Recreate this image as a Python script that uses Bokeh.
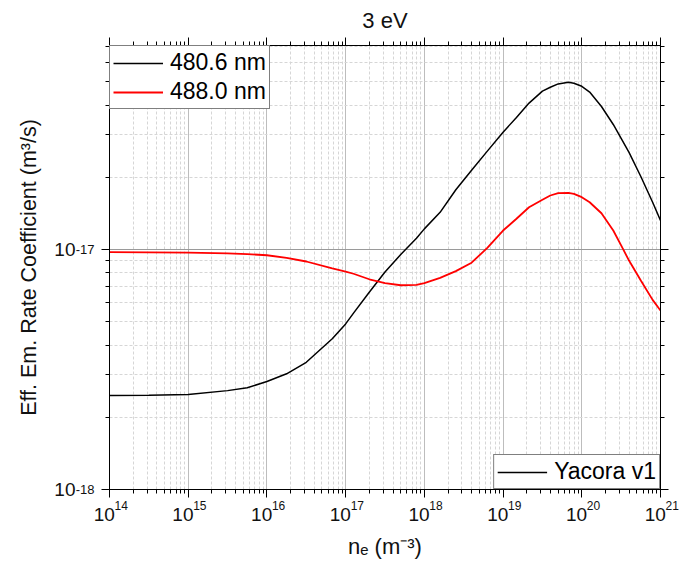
from bokeh.plotting import figure
from bokeh.models import (Range1d, FixedTicker, LogAxis, CustomJSTickFormatter,
                          Legend, LegendItem, ColumnDataSource)
from bokeh.embed import file_html
from bokeh.resources import INLINE

# ---- data (log10 values) ----
log_ne = [14.0, 14.5, 15.0, 15.5, 15.75, 16.0, 16.25, 16.5, 16.83, 17.0, 17.1, 17.3,
          17.5, 17.7, 17.9, 18.0, 18.2, 18.4, 18.6, 18.8, 19.0, 19.17, 19.33, 19.5,
          19.6, 19.7, 19.83, 19.9, 20.0, 20.1, 20.25, 20.4, 20.5, 20.6, 20.75, 20.9, 21.0]
log_rate_4806 = [-17.608, -17.607, -17.604, -17.588, -17.576, -17.55, -17.518, -17.47,
                 -17.372, -17.31, -17.265, -17.178, -17.094, -17.021, -16.953, -16.914,
                 -16.845, -16.751, -16.67, -16.59, -16.511, -16.45, -16.39, -16.34,
                 -16.324, -16.31, -16.303, -16.307, -16.32, -16.344, -16.404, -16.479,
                 -16.537, -16.595, -16.696, -16.803, -16.879]
log_rate_4880 = [-17.011, -17.012, -17.013, -17.016, -17.019, -17.024, -17.035, -17.05,
                 -17.079, -17.092, -17.101, -17.124, -17.14, -17.149, -17.147, -17.14,
                 -17.118, -17.09, -17.055, -16.993, -16.921, -16.872, -16.824, -16.793,
                 -16.775, -16.765, -16.764, -16.768, -16.782, -16.803, -16.849, -16.921,
                 -16.983, -17.046, -17.129, -17.21, -17.254]
series_labels = ["480.6 nm", "488.0 nm"]
model_label = "Yacora v1"
title_text = "3 eV"
x_label = "n\u2091 (m\u207b\u00b3)"
y_label = "Eff. Em. Rate Coefficient (m\u00b3/s)"
x_major = [1e14, 1e15, 1e16, 1e17, 1e18, 1e19, 1e20, 1e21]
y_major = [1e-18, 1e-17, 1e-16]
x_lim = (1e14, 1e21)
y_lim = (1e-18, 7.08e-17)

ne = [10 ** v for v in log_ne]
rate_4806 = [10 ** v for v in log_rate_4806]
rate_4880 = [10 ** v for v in log_rate_4880]
x_minor = [m * d for d in x_major[:-1] for m in range(2, 10)]
y_minor = [m * d for d in y_major[:-1] for m in range(2, 10)]

FONT = "Liberation Sans"
TXT = "#111111"

p = figure(width=680, height=571, x_axis_type="log", y_axis_type="log",
           x_range=Range1d(*x_lim), y_range=Range1d(*y_lim),
           output_backend="svg", toolbar_location=None,
           min_border_left=109, min_border_right=20, min_border_top=45,
           min_border_bottom=82)
p.title.text = title_text
p.title.align = "center"
p.title.text_font = FONT
p.title.text_font_size = "22px"
p.title.text_font_style = "normal"
p.title.text_color = TXT

p.outline_line_color = "black"
p.outline_line_width = 1
p.background_fill_color = "white"
p.border_fill_color = "white"

NB = "\u00a0"
blank = CustomJSTickFormatter(code="return '';")
exp_x = CustomJSTickFormatter(code=f"return '{NB * 7}' + Math.round(Math.log10(tick));")
exp_y = CustomJSTickFormatter(code="return '' + Math.round(Math.log10(tick));")
ten_x = CustomJSTickFormatter(code=f"return '10{NB}{NB}';")
ten_y = CustomJSTickFormatter(code="return '10';")

xt = FixedTicker(ticks=x_major, minor_ticks=x_minor)
yt = FixedTicker(ticks=y_major, minor_ticks=y_minor)

def style_axis(ax, ticker, formatter, ticks=True):
    ax.ticker = ticker
    ax.formatter = formatter
    ax.axis_line_color = "black" if ticks else None
    ax.axis_line_width = 1
    ax.major_tick_line_color = "black" if ticks else None
    ax.minor_tick_line_color = "black" if ticks else None
    ax.major_tick_out = 8 if ticks else 0
    ax.major_tick_in = 0
    ax.minor_tick_out = 4 if ticks else 0
    ax.minor_tick_in = 0
    ax.major_label_standoff = 0
    ax.major_label_text_font = FONT
    ax.major_label_text_color = TXT
    ax.axis_label_text_font = FONT
    ax.axis_label_text_font_style = "normal"
    ax.axis_label_text_color = TXT

# bottom: exponent row (with ticks) then "10" row
xa = p.xaxis[0]
style_axis(xa, xt, exp_x)
xa.major_label_text_font_size = "12px"
xa.major_label_standoff = 1
xb = LogAxis()
style_axis(xb, xt, ten_x, ticks=False)
xb.major_label_text_font_size = "19px"
xb.major_label_standoff = -12
xb.axis_label = x_label
xb.axis_label_text_font_size = "22px"
xb.axis_label_standoff = 6
p.add_layout(xb, "below")

# left: exponent column (with ticks) then "10" column
ya = p.yaxis[0]
style_axis(ya, yt, exp_y)
ya.major_label_text_font_size = "13px"
ya.major_label_text_baseline = "alphabetic"
ya.major_label_standoff = 7
yb = LogAxis()
style_axis(yb, yt, ten_y, ticks=False)
yb.major_label_text_font_size = "19px"
yb.major_label_standoff = -3
yb.axis_label = y_label
yb.axis_label_text_font_size = "21.5px"
yb.axis_label_standoff = 10
p.add_layout(yb, "left")

top_ax = LogAxis()
style_axis(top_ax, xt, blank)
top_ax.major_label_text_font_size = "1px"
p.add_layout(top_ax, "above")
right_ax = LogAxis()
style_axis(right_ax, yt, blank)
right_ax.major_label_text_font_size = "1px"
p.add_layout(right_ax, "right")

for g, t in ((p.xgrid[0], xt), (p.ygrid[0], yt)):
    g.ticker = t
    g.grid_line_color = "#bdbdbd"
    g.grid_line_width = 1
    g.minor_grid_line_color = "#d6d6d6"
    g.minor_grid_line_dash = "3 2"
    g.minor_grid_line_width = 1
p.ygrid[0].grid_line_color = "#9a9a9a"

src = ColumnDataSource(dict(ne=ne, a=rate_4806, b=rate_4880))
r1 = p.line("ne", "a", source=src, line_color="black", line_width=1.5)
r2 = p.line("ne", "b", source=src, line_color="#ff0000", line_width=1.8)
# single-point (invisible) line that carries the "Yacora v1" legend entry
r3 = p.line(x=ne[:1], y=rate_4806[:1], line_color="black", line_width=1.5)

def style_legend(lg):
    lg.border_line_color = "black"
    lg.border_line_width = 1
    lg.background_fill_color = "white"
    lg.background_fill_alpha = 1
    lg.label_text_font = FONT
    lg.label_text_font_size = "23px"
    lg.label_text_color = "black"
    lg.glyph_width = 50
    lg.glyph_height = 20
    lg.label_height = 20
    lg.label_standoff = 7
    lg.margin = 0
    lg.padding = 3
    lg.spacing = 2

leg1 = Legend(items=[LegendItem(label=series_labels[0], renderers=[r1]),
                     LegendItem(label=series_labels[1], renderers=[r2])],
              location="top_left")
style_legend(leg1)
p.add_layout(leg1)
leg2 = Legend(items=[LegendItem(label=model_label, renderers=[r3])],
              location="bottom_right")
style_legend(leg2)
p.add_layout(leg2)

open("out.html", "w").write(file_html(p, INLINE))
